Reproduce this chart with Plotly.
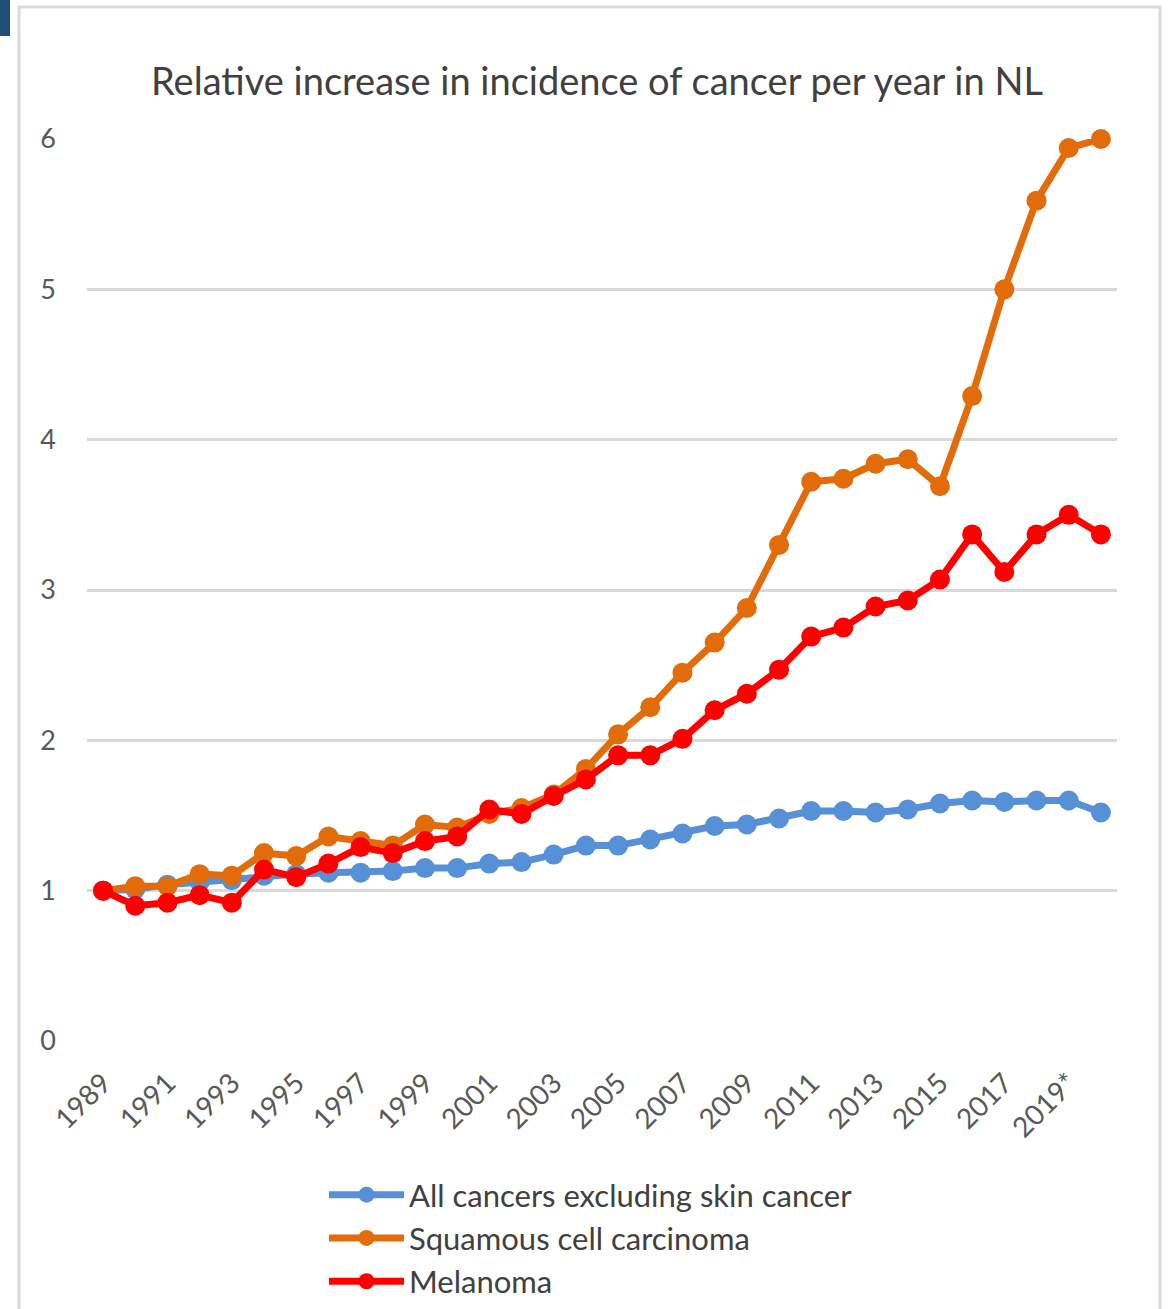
import plotly.graph_objects as go

# Year categories (2019 and 2020 are provisional figures)
years = [str(y) for y in range(1989, 2019)] + ["2019*", "2020*"]

# Incidence relative to 1989 (1989 = 1)
all_cancers = [1.00, 1.01, 1.04, 1.06, 1.07, 1.10, 1.11, 1.12, 1.12, 1.13, 1.15, 1.15,
               1.18, 1.19, 1.24, 1.30, 1.30, 1.34, 1.38, 1.43, 1.44, 1.48, 1.53, 1.53,
               1.52, 1.54, 1.58, 1.60, 1.59, 1.60, 1.60, 1.52]
squamous = [1.00, 1.03, 1.03, 1.11, 1.10, 1.25, 1.23, 1.36, 1.33, 1.30, 1.44, 1.42,
            1.51, 1.55, 1.64, 1.81, 2.04, 2.22, 2.45, 2.65, 2.88, 3.30, 3.72, 3.74,
            3.84, 3.87, 3.69, 4.29, 5.00, 5.59, 5.94, 6.00]
melanoma = [1.00, 0.90, 0.92, 0.97, 0.92, 1.14, 1.09, 1.18, 1.29, 1.25, 1.33, 1.36,
            1.54, 1.51, 1.63, 1.74, 1.90, 1.90, 2.01, 2.20, 2.31, 2.47, 2.69, 2.75,
            2.89, 2.93, 3.07, 3.37, 3.12, 3.37, 3.50, 3.37]

series_names = ["All cancers excluding skin cancer", "Squamous cell carcinoma", "Melanoma"]
series_colors = ["#5690D6", "#E36C0A", "#FF0000"]
y_ticks = [0, 1, 2, 3, 4, 5, 6]

FONT = "Lato"
W, H = 1168, 1309
L, R, T, B = 87, 51, 139, 268
PW, PH = W - L - R, H - T - B


def px_x(x):
    return (x - L) / PW


def px_y(y):
    return (H - B - y) / PH


fig = go.Figure()
for i, (name, vals, col) in enumerate(zip(series_names, [all_cancers, squamous, melanoma], series_colors)):
    fig.add_trace(go.Scatter(
        x=years, y=vals, name=name, mode="lines+markers",
        line=dict(color=col, width=7),
        marker=dict(color=col, size=20),
        cliponaxis=False,
        legendgroup=f"g{i}",
    ))

fig.update_layout(
    width=W, height=H,
    margin=dict(l=L, r=R, t=T, b=B, autoexpand=False),
    paper_bgcolor="white", plot_bgcolor="white",
    font=dict(family=FONT, color="#595959"),
    title=dict(
        text="Relative increase in incidence of cancer per year in NL",
        font=dict(family=FONT, size=38, color="#404040"),
        x=597 / W, xref="container", xanchor="center",
        y=1 - 82 / H, yref="container", yanchor="middle",
    ),
    showlegend=True,
    legend=dict(
        orientation="v",
        xref="container", yref="container",
        x=324 / W, xanchor="left",
        y=1 - 1168 / H, yanchor="top",
        font=dict(family=FONT, size=31, color="#404040"),
        itemwidth=75,
        tracegroupgap=0,
        bgcolor="rgba(0,0,0,0)",
    ),
    xaxis=dict(
        type="category",
        tickmode="array", tickvals=years[::2], ticktext=years[::2],
        tickangle=-45,
        tickfont=dict(family=FONT, size=28, color="#595959"),
        showgrid=False, zeroline=False, showline=False, ticks="",
        range=[-0.5, len(years) - 0.5],
        ticklabelstandoff=19,
        automargin=False,
    ),
    yaxis=dict(
        range=[0, 6], tickvals=y_ticks,
        tickfont=dict(family=FONT, size=27, color="#595959"),
        showgrid=True, gridcolor="#D9D9D9", gridwidth=3,
        zeroline=False, showline=False, ticks="",
        ticklabelstandoff=30,
        automargin=False,
    ),
    shapes=[
        # outer chart frame
        dict(type="rect", xref="paper", yref="paper",
             x0=px_x(19), x1=px_x(1160), y0=px_y(1330), y1=px_y(7),
             line=dict(color="#D9D9D9", width=3), fillcolor="rgba(0,0,0,0)", layer="below"),
        # dark accent block in the corner
        dict(type="rect", xref="paper", yref="paper",
             x0=px_x(0), x1=px_x(10), y0=px_y(36), y1=px_y(0),
             line=dict(width=0), fillcolor="#1F4E79", layer="below"),
    ],
)

fig.write_html("out.html")
